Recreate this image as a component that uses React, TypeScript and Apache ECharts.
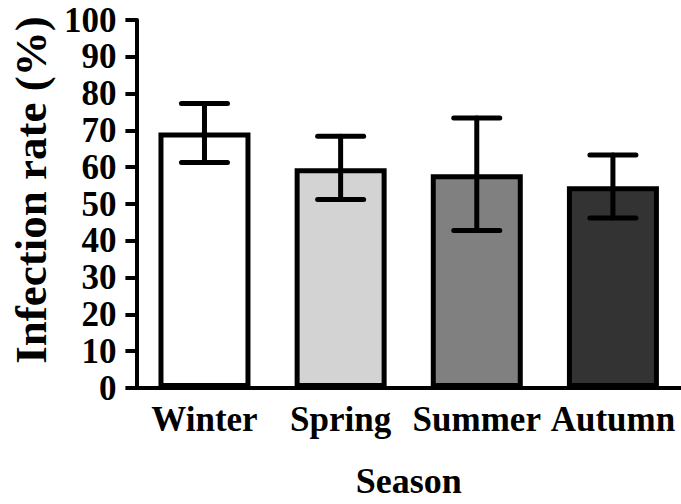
import React, { useEffect, useRef } from "react";
import * as echarts from "echarts";

const categories = ["Winter", "Spring", "Summer", "Autumn"];
const means = [69.4, 59.7, 58.1, 54.8];
const errLow = [61.3, 51.2, 42.8, 46.2];
const errHigh = [77.3, 68.4, 73.4, 63.3];
const barColors = ["#ffffff", "#d3d3d3", "#808080", "#333333"];

const FONT = "'Liberation Serif', 'Times New Roman', serif";

export default function App() {
  const ref = useRef<HTMLDivElement>(null);
  useEffect(() => {
    if (!ref.current) return;
    const chart = echarts.init(ref.current, null, { renderer: "svg" });
    const errData = categories.map((_, i) => [i, errLow[i], errHigh[i]]);
    chart.setOption({
      animation: false,
      grid: { left: 135, top: 20, width: 553, height: 370 },
      xAxis: {
        type: "category",
        data: categories,
        name: "Season",
        nameLocation: "middle",
        nameGap: 75,
        nameTextStyle: { fontFamily: FONT, fontWeight: "bold", fontSize: 36, color: "#000" },
        axisLine: { lineStyle: { color: "#000", width: 4 } },
        axisTick: { alignWithLabel: true, length: 11, lineStyle: { color: "#000", width: 4 } },
        axisLabel: { fontFamily: FONT, fontWeight: "bold", fontSize: 35, color: "#000", margin: 14, interval: 0 },
      },
      yAxis: {
        type: "value",
        min: 0,
        max: 100,
        interval: 10,
        name: "Infection rate (%)",
        nameLocation: "middle",
        nameGap: 82,
        nameTextStyle: { fontFamily: FONT, fontWeight: "bold", fontSize: 45, color: "#000", padding: [0, 0, 0, 28] },
        axisLine: { show: true, lineStyle: { color: "#000", width: 4 } },
        axisTick: { show: true, length: 11, lineStyle: { color: "#000", width: 4 } },
        splitLine: { show: false },
        axisLabel: { fontFamily: FONT, fontWeight: "bold", fontSize: 35, color: "#000", margin: 20 },
      },
      series: [
        {
          type: "bar",
          barWidth: 92,
          data: means.map((v, i) => ({
            value: v,
            itemStyle: { color: barColors[i], borderColor: "#000", borderWidth: 5 },
          })),
          z: 2,
        },
        {
          type: "custom",
          data: errData,
          z: 3,
          renderItem: (params: any, api: any) => {
            const x = api.value(0);
            const lo = api.coord([x, api.value(1)]);
            const hi = api.coord([x, api.value(2)]);
            const hw = 23;
            const style = { stroke: "#000", lineWidth: 5, lineCap: "round" };
            return {
              type: "group",
              children: [
                { type: "line", shape: { x1: lo[0], y1: lo[1], x2: hi[0], y2: hi[1] }, style },
                { type: "line", shape: { x1: hi[0] - hw, y1: hi[1], x2: hi[0] + hw, y2: hi[1] }, style },
                { type: "line", shape: { x1: lo[0] - hw, y1: lo[1], x2: lo[0] + hw, y2: lo[1] }, style },
              ],
            };
          },
        },
      ],
    });
    return () => chart.dispose();
  }, []);
  return <div ref={ref} style={{ width: 681, height: 504, position: "absolute", left: 0, top: 0 }} />;
}
